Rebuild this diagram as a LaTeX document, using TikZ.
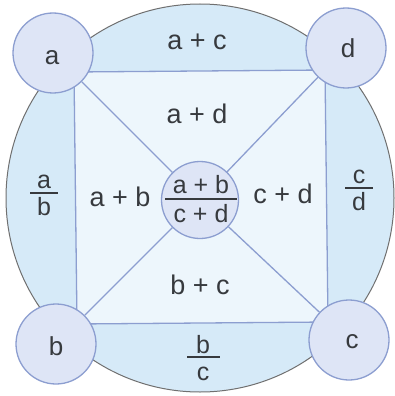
\documentclass[tikz,border=0pt]{standalone}
\usepackage{fontspec}
\setmainfont{Liberation Sans}
\definecolor{bandc}{RGB}{214,234,248}
\definecolor{innerc}{RGB}{237,246,252}
\definecolor{discc}{RGB}{222,229,246}
\definecolor{edgec}{RGB}{140,158,208}
\definecolor{ringc}{RGB}{112,112,112}
\definecolor{inkc}{RGB}{55,58,62}
\begin{document}
\begin{tikzpicture}[x=1pt,y=-1pt,
  disc/.style={circle, draw=edgec, fill=discc, line width=1.3pt, inner sep=0pt},
  big/.style={font=\fontsize{27}{30}\selectfont, text=inkc, inner sep=0pt},
  small/.style={font=\fontsize{25}{28}\selectfont, text=inkc, inner sep=0pt},
  link/.style={draw=edgec, line width=1.3pt},
  barline/.style={draw=inkc, line width=1.3pt}]
\useasboundingbox (0,0) rectangle (395,396);
\fill[white] (0,0) rectangle (395,396);
% outer ring
\draw[ringc, fill=bandc, line width=1pt] (200,198) circle (194pt);
% inner square
\coordinate (TL) at (74,72);
\coordinate (TR) at (325,70);
\coordinate (BR) at (328,322);
\coordinate (BL) at (77,324);
\fill[innerc] (TL) -- (TR) -- (BR) -- (BL) -- cycle;
\draw[link] (TL) -- (TR) -- (BR) -- (BL) -- cycle;
% discs
\node[disc, minimum size=80pt] (A) at (53,53) {};
\node[disc, minimum size=80pt] (D) at (346,48) {};
\node[disc, minimum size=80pt] (B) at (56,344) {};
\node[disc, minimum size=80pt] (C) at (349,340) {};
\node[disc, minimum size=77pt] (M) at (200,200) {};
% diagonals
\draw[link] (A) -- (M);
\draw[link] (D) -- (M);
\draw[link] (B) -- (M);
\draw[link] (C) -- (M);
% corner labels
\node[small, font=\fontsize{26}{30}\selectfont] (la) at (52,57.5) {a};
\node[small, font=\fontsize{26}{30}\selectfont] (ld) at (348,48.5) {d};
\node[small, font=\fontsize{26}{30}\selectfont] (lb) at (56,346.5) {b};
\node[small, font=\fontsize{26}{30}\selectfont] (lc) at (352,342) {c};
% sums
\node[big, anchor=base] (ac) at (197,50) {a + c};
\node[big, anchor=base] (ad) at (197,123) {a + d};
\node[big, anchor=base] (ab) at (120,206) {a + b};
\node[big, anchor=base] (cd) at (283,203) {c + d};
\node[big, anchor=base] (bc) at (200,294) {b + c};
% fraction a/b
\node[small, anchor=base] (fa) at (44,188) {a};
\node[small, anchor=base] (fb) at (44,215) {b};
\coordinate (ab1) at (30,193); \coordinate (ab2) at (58,193);
\draw[barline] (ab1) -- (ab2);
% fraction c/d
\node[small, anchor=base] (fc) at (359,183) {c};
\node[small, anchor=base] (fd) at (359,210) {d};
\coordinate (cd1) at (345,188); \coordinate (cd2) at (373,188);
\draw[barline] (cd1) -- (cd2);
% fraction b/c
\node[small, anchor=base] (gb) at (203,353) {b};
\node[small, anchor=base] (gc) at (203,380) {c};
\coordinate (bc1) at (187,357); \coordinate (bc2) at (220,357);
\draw[barline] (bc1) -- (bc2);
% centre fraction
\node[small, anchor=base] (mn) at (201,193) {a + b};
\node[small, anchor=base] (md) at (201,222) {c + d};
\coordinate (m1) at (165,199); \coordinate (m2) at (237,199);
\draw[barline] (m1) -- (m2);
\end{tikzpicture}
\end{document}
